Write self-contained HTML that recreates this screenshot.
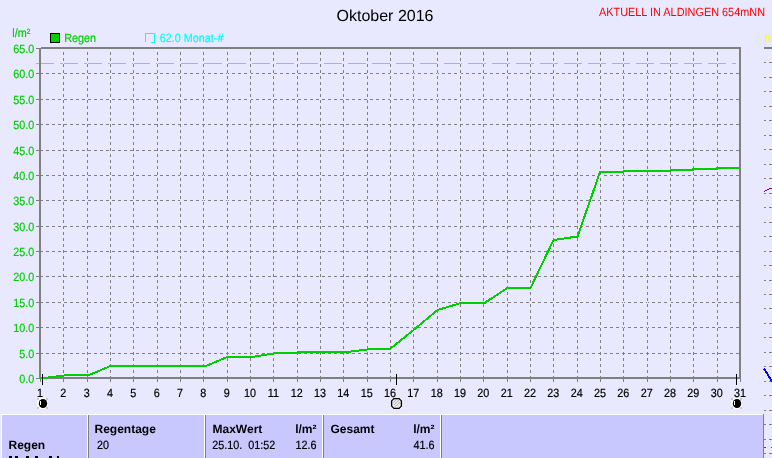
<!DOCTYPE html><html><head><meta charset="utf-8"><title>Oktober 2016</title><style>
html,body{margin:0;padding:0;background:#E8E8FF;}body{width:772px;height:458px;overflow:hidden;position:relative;font-family:"Liberation Sans",sans-serif;}svg{position:absolute;left:0;top:0;will-change:transform;}text{font-family:"Liberation Sans",sans-serif;white-space:pre;text-rendering:geometricPrecision;}
</style></head><body>
<svg width="772" height="458" viewBox="0 0 772 458">
<rect x="0" y="0" width="772" height="458" fill="#E8E8FF"/>
<g shape-rendering="crispEdges" stroke="#808080" stroke-width="1" stroke-dasharray="3 3" fill="none">
<line x1="40" y1="353.5" x2="739" y2="353.5"/>
<line x1="40" y1="327.5" x2="739" y2="327.5"/>
<line x1="40" y1="302.5" x2="739" y2="302.5"/>
<line x1="40" y1="276.5" x2="739" y2="276.5"/>
<line x1="40" y1="251.5" x2="739" y2="251.5"/>
<line x1="40" y1="226.5" x2="739" y2="226.5"/>
<line x1="40" y1="200.5" x2="739" y2="200.5"/>
<line x1="40" y1="175.5" x2="739" y2="175.5"/>
<line x1="40" y1="150.5" x2="739" y2="150.5"/>
<line x1="40" y1="124.5" x2="739" y2="124.5"/>
<line x1="40" y1="99.5" x2="739" y2="99.5"/>
<line x1="40" y1="73.5" x2="739" y2="73.5"/>
</g>
<line shape-rendering="crispEdges" x1="36" y1="63.5" x2="736" y2="63.5" stroke="#00FFFF" stroke-width="1" stroke-dasharray="18 6"/>
<g shape-rendering="crispEdges" stroke-width="1" fill="none">
<line x1="63.5" y1="49" x2="63.5" y2="377" stroke="#E8E8FF"/>
<line x1="63.5" y1="49" x2="63.5" y2="377" stroke="#808080" stroke-dasharray="3 3" stroke-dashoffset="3"/>
<line x1="87.5" y1="49" x2="87.5" y2="377" stroke="#E8E8FF"/>
<line x1="87.5" y1="49" x2="87.5" y2="377" stroke="#808080" stroke-dasharray="3 3" stroke-dashoffset="3"/>
<line x1="110.5" y1="49" x2="110.5" y2="377" stroke="#E8E8FF"/>
<line x1="110.5" y1="49" x2="110.5" y2="377" stroke="#808080" stroke-dasharray="3 3" stroke-dashoffset="3"/>
<line x1="133.5" y1="49" x2="133.5" y2="377" stroke="#E8E8FF"/>
<line x1="133.5" y1="49" x2="133.5" y2="377" stroke="#808080" stroke-dasharray="3 3" stroke-dashoffset="3"/>
<line x1="157.5" y1="49" x2="157.5" y2="377" stroke="#E8E8FF"/>
<line x1="157.5" y1="49" x2="157.5" y2="377" stroke="#808080" stroke-dasharray="3 3" stroke-dashoffset="3"/>
<line x1="180.5" y1="49" x2="180.5" y2="377" stroke="#E8E8FF"/>
<line x1="180.5" y1="49" x2="180.5" y2="377" stroke="#808080" stroke-dasharray="3 3" stroke-dashoffset="3"/>
<line x1="203.5" y1="49" x2="203.5" y2="377" stroke="#E8E8FF"/>
<line x1="203.5" y1="49" x2="203.5" y2="377" stroke="#808080" stroke-dasharray="3 3" stroke-dashoffset="3"/>
<line x1="227.5" y1="49" x2="227.5" y2="377" stroke="#E8E8FF"/>
<line x1="227.5" y1="49" x2="227.5" y2="377" stroke="#808080" stroke-dasharray="3 3" stroke-dashoffset="3"/>
<line x1="250.5" y1="49" x2="250.5" y2="377" stroke="#E8E8FF"/>
<line x1="250.5" y1="49" x2="250.5" y2="377" stroke="#808080" stroke-dasharray="3 3" stroke-dashoffset="3"/>
<line x1="273.5" y1="49" x2="273.5" y2="377" stroke="#E8E8FF"/>
<line x1="273.5" y1="49" x2="273.5" y2="377" stroke="#808080" stroke-dasharray="3 3" stroke-dashoffset="3"/>
<line x1="297.5" y1="49" x2="297.5" y2="377" stroke="#E8E8FF"/>
<line x1="297.5" y1="49" x2="297.5" y2="377" stroke="#808080" stroke-dasharray="3 3" stroke-dashoffset="3"/>
<line x1="320.5" y1="49" x2="320.5" y2="377" stroke="#E8E8FF"/>
<line x1="320.5" y1="49" x2="320.5" y2="377" stroke="#808080" stroke-dasharray="3 3" stroke-dashoffset="3"/>
<line x1="343.5" y1="49" x2="343.5" y2="377" stroke="#E8E8FF"/>
<line x1="343.5" y1="49" x2="343.5" y2="377" stroke="#808080" stroke-dasharray="3 3" stroke-dashoffset="3"/>
<line x1="367.5" y1="49" x2="367.5" y2="377" stroke="#E8E8FF"/>
<line x1="367.5" y1="49" x2="367.5" y2="377" stroke="#808080" stroke-dasharray="3 3" stroke-dashoffset="3"/>
<line x1="390.5" y1="49" x2="390.5" y2="377" stroke="#E8E8FF"/>
<line x1="390.5" y1="49" x2="390.5" y2="377" stroke="#808080" stroke-dasharray="3 3" stroke-dashoffset="3"/>
<line x1="413.5" y1="49" x2="413.5" y2="377" stroke="#E8E8FF"/>
<line x1="413.5" y1="49" x2="413.5" y2="377" stroke="#808080" stroke-dasharray="3 3" stroke-dashoffset="3"/>
<line x1="437.5" y1="49" x2="437.5" y2="377" stroke="#E8E8FF"/>
<line x1="437.5" y1="49" x2="437.5" y2="377" stroke="#808080" stroke-dasharray="3 3" stroke-dashoffset="3"/>
<line x1="460.5" y1="49" x2="460.5" y2="377" stroke="#E8E8FF"/>
<line x1="460.5" y1="49" x2="460.5" y2="377" stroke="#808080" stroke-dasharray="3 3" stroke-dashoffset="3"/>
<line x1="483.5" y1="49" x2="483.5" y2="377" stroke="#E8E8FF"/>
<line x1="483.5" y1="49" x2="483.5" y2="377" stroke="#808080" stroke-dasharray="3 3" stroke-dashoffset="3"/>
<line x1="507.5" y1="49" x2="507.5" y2="377" stroke="#E8E8FF"/>
<line x1="507.5" y1="49" x2="507.5" y2="377" stroke="#808080" stroke-dasharray="3 3" stroke-dashoffset="3"/>
<line x1="530.5" y1="49" x2="530.5" y2="377" stroke="#E8E8FF"/>
<line x1="530.5" y1="49" x2="530.5" y2="377" stroke="#808080" stroke-dasharray="3 3" stroke-dashoffset="3"/>
<line x1="553.5" y1="49" x2="553.5" y2="377" stroke="#E8E8FF"/>
<line x1="553.5" y1="49" x2="553.5" y2="377" stroke="#808080" stroke-dasharray="3 3" stroke-dashoffset="3"/>
<line x1="577.5" y1="49" x2="577.5" y2="377" stroke="#E8E8FF"/>
<line x1="577.5" y1="49" x2="577.5" y2="377" stroke="#808080" stroke-dasharray="3 3" stroke-dashoffset="3"/>
<line x1="600.5" y1="49" x2="600.5" y2="377" stroke="#E8E8FF"/>
<line x1="600.5" y1="49" x2="600.5" y2="377" stroke="#808080" stroke-dasharray="3 3" stroke-dashoffset="3"/>
<line x1="623.5" y1="49" x2="623.5" y2="377" stroke="#E8E8FF"/>
<line x1="623.5" y1="49" x2="623.5" y2="377" stroke="#808080" stroke-dasharray="3 3" stroke-dashoffset="3"/>
<line x1="647.5" y1="49" x2="647.5" y2="377" stroke="#E8E8FF"/>
<line x1="647.5" y1="49" x2="647.5" y2="377" stroke="#808080" stroke-dasharray="3 3" stroke-dashoffset="3"/>
<line x1="670.5" y1="49" x2="670.5" y2="377" stroke="#E8E8FF"/>
<line x1="670.5" y1="49" x2="670.5" y2="377" stroke="#808080" stroke-dasharray="3 3" stroke-dashoffset="3"/>
<line x1="693.5" y1="49" x2="693.5" y2="377" stroke="#E8E8FF"/>
<line x1="693.5" y1="49" x2="693.5" y2="377" stroke="#808080" stroke-dasharray="3 3" stroke-dashoffset="3"/>
<line x1="717.5" y1="49" x2="717.5" y2="377" stroke="#E8E8FF"/>
<line x1="717.5" y1="49" x2="717.5" y2="377" stroke="#808080" stroke-dasharray="3 3" stroke-dashoffset="3"/>
</g>
<g shape-rendering="crispEdges" fill="#808080">
<rect x="39" y="48" width="2" height="331"/>
<rect x="41" y="47" width="700" height="2"/>
<rect x="739" y="47" width="2" height="332"/>
<rect x="39" y="377" width="702" height="2"/>
<rect x="36" y="378" width="3" height="1"/>
<rect x="36" y="353" width="3" height="1"/>
<rect x="36" y="327" width="3" height="1"/>
<rect x="36" y="302" width="3" height="1"/>
<rect x="36" y="276" width="3" height="1"/>
<rect x="36" y="251" width="3" height="1"/>
<rect x="36" y="226" width="3" height="1"/>
<rect x="36" y="200" width="3" height="1"/>
<rect x="36" y="175" width="3" height="1"/>
<rect x="36" y="150" width="3" height="1"/>
<rect x="36" y="124" width="3" height="1"/>
<rect x="36" y="99" width="3" height="1"/>
<rect x="36" y="73" width="3" height="1"/>
<rect x="36" y="48" width="3" height="1"/>
<rect x="40" y="379" width="1" height="3"/>
<rect x="63" y="379" width="1" height="3"/>
<rect x="87" y="379" width="1" height="3"/>
<rect x="110" y="379" width="1" height="3"/>
<rect x="133" y="379" width="1" height="3"/>
<rect x="157" y="379" width="1" height="3"/>
<rect x="180" y="379" width="1" height="3"/>
<rect x="203" y="379" width="1" height="3"/>
<rect x="227" y="379" width="1" height="3"/>
<rect x="250" y="379" width="1" height="3"/>
<rect x="273" y="379" width="1" height="3"/>
<rect x="297" y="379" width="1" height="3"/>
<rect x="320" y="379" width="1" height="3"/>
<rect x="343" y="379" width="1" height="3"/>
<rect x="367" y="379" width="1" height="3"/>
<rect x="390" y="379" width="1" height="3"/>
<rect x="413" y="379" width="1" height="3"/>
<rect x="437" y="379" width="1" height="3"/>
<rect x="460" y="379" width="1" height="3"/>
<rect x="483" y="379" width="1" height="3"/>
<rect x="507" y="379" width="1" height="3"/>
<rect x="530" y="379" width="1" height="3"/>
<rect x="553" y="379" width="1" height="3"/>
<rect x="577" y="379" width="1" height="3"/>
<rect x="600" y="379" width="1" height="3"/>
<rect x="623" y="379" width="1" height="3"/>
<rect x="647" y="379" width="1" height="3"/>
<rect x="670" y="379" width="1" height="3"/>
<rect x="693" y="379" width="1" height="3"/>
<rect x="717" y="379" width="1" height="3"/>
<rect x="740" y="379" width="1" height="3"/>
</g>
<polyline shape-rendering="crispEdges" points="40.0,378.0 44.0,378.0 68.0,375.0 89.0,375.0 110.5,366.0 206.0,366.0 227.0,357.0 252.0,357.0 276.0,353.0 297.5,353.0 297.5,352.0 347.5,352.0 370.5,349.0 390.0,349.0 413.5,330.0 437.5,310.0 461.0,303.0 484.5,303.0 507.3,288.0 530.5,288.0 553.5,240.0 577.5,236.5 600.0,172.0 623.5,172.0 623.5,171.0 670.5,171.0 670.5,170.0 693.0,170.0 693.0,169.0 717.0,169.0 717.0,168.0 739.0,168.0" fill="none" stroke="#00D000" stroke-width="2" stroke-linejoin="round"/>
<text transform="translate(34.30 383.00) scale(0.900 1)" font-size="12" fill="#00D000" stroke="#00D000" stroke-width="0.2" text-anchor="end">0.0</text>
<text transform="translate(34.30 358.00) scale(0.900 1)" font-size="12" fill="#00D000" stroke="#00D000" stroke-width="0.2" text-anchor="end">5.0</text>
<text transform="translate(34.30 332.00) scale(0.900 1)" font-size="12" fill="#00D000" stroke="#00D000" stroke-width="0.2" text-anchor="end">10.0</text>
<text transform="translate(34.30 307.00) scale(0.900 1)" font-size="12" fill="#00D000" stroke="#00D000" stroke-width="0.2" text-anchor="end">15.0</text>
<text transform="translate(34.30 281.00) scale(0.900 1)" font-size="12" fill="#00D000" stroke="#00D000" stroke-width="0.2" text-anchor="end">20.0</text>
<text transform="translate(34.30 256.00) scale(0.900 1)" font-size="12" fill="#00D000" stroke="#00D000" stroke-width="0.2" text-anchor="end">25.0</text>
<text transform="translate(34.30 231.00) scale(0.900 1)" font-size="12" fill="#00D000" stroke="#00D000" stroke-width="0.2" text-anchor="end">30.0</text>
<text transform="translate(34.30 205.00) scale(0.900 1)" font-size="12" fill="#00D000" stroke="#00D000" stroke-width="0.2" text-anchor="end">35.0</text>
<text transform="translate(34.30 180.00) scale(0.900 1)" font-size="12" fill="#00D000" stroke="#00D000" stroke-width="0.2" text-anchor="end">40.0</text>
<text transform="translate(34.30 155.00) scale(0.900 1)" font-size="12" fill="#00D000" stroke="#00D000" stroke-width="0.2" text-anchor="end">45.0</text>
<text transform="translate(34.30 129.00) scale(0.900 1)" font-size="12" fill="#00D000" stroke="#00D000" stroke-width="0.2" text-anchor="end">50.0</text>
<text transform="translate(34.30 104.00) scale(0.900 1)" font-size="12" fill="#00D000" stroke="#00D000" stroke-width="0.2" text-anchor="end">55.0</text>
<text transform="translate(34.30 78.00) scale(0.900 1)" font-size="12" fill="#00D000" stroke="#00D000" stroke-width="0.2" text-anchor="end">60.0</text>
<text transform="translate(34.30 53.00) scale(0.900 1)" font-size="12" fill="#00D000" stroke="#00D000" stroke-width="0.2" text-anchor="end">65.0</text>
<text transform="translate(12.30 37.00) scale(0.900 1)" font-size="12" fill="#00D000" stroke="#00D000" stroke-width="0.2" text-anchor="start">l/m²</text>
<rect shape-rendering="crispEdges" x="50.5" y="33.5" width="9" height="9" fill="#00D000" stroke="#000"/>
<text transform="translate(64.20 42.00) scale(0.900 1)" font-size="12" fill="#00D000" stroke="#00D000" stroke-width="0.2" text-anchor="start">Regen</text>
<g shape-rendering="crispEdges" fill="#00FFFF"><rect x="145" y="33" width="10" height="1"/><rect x="145" y="33" width="1" height="9"/><rect x="154" y="33" width="1" height="10"/><rect x="151" y="42" width="4" height="1"/></g>
<text transform="translate(159.80 42.00) scale(0.900 1)" font-size="12" fill="#00FFFF" stroke="#00FFFF" stroke-width="0.2" text-anchor="start">62.0 Monat-#</text>
<text transform="translate(40.00 397.00) scale(0.900 1)" font-size="12" fill="#000" stroke="#000" stroke-width="0.2" text-anchor="middle">1</text>
<text transform="translate(63.33 397.00) scale(0.900 1)" font-size="12" fill="#000" stroke="#000" stroke-width="0.2" text-anchor="middle">2</text>
<text transform="translate(86.67 397.00) scale(0.900 1)" font-size="12" fill="#000" stroke="#000" stroke-width="0.2" text-anchor="middle">3</text>
<text transform="translate(110.00 397.00) scale(0.900 1)" font-size="12" fill="#000" stroke="#000" stroke-width="0.2" text-anchor="middle">4</text>
<text transform="translate(133.33 397.00) scale(0.900 1)" font-size="12" fill="#000" stroke="#000" stroke-width="0.2" text-anchor="middle">5</text>
<text transform="translate(156.67 397.00) scale(0.900 1)" font-size="12" fill="#000" stroke="#000" stroke-width="0.2" text-anchor="middle">6</text>
<text transform="translate(180.00 397.00) scale(0.900 1)" font-size="12" fill="#000" stroke="#000" stroke-width="0.2" text-anchor="middle">7</text>
<text transform="translate(203.33 397.00) scale(0.900 1)" font-size="12" fill="#000" stroke="#000" stroke-width="0.2" text-anchor="middle">8</text>
<text transform="translate(226.67 397.00) scale(0.900 1)" font-size="12" fill="#000" stroke="#000" stroke-width="0.2" text-anchor="middle">9</text>
<text transform="translate(250.00 397.00) scale(0.900 1)" font-size="12" fill="#000" stroke="#000" stroke-width="0.2" text-anchor="middle">10</text>
<text transform="translate(273.33 397.00) scale(0.900 1)" font-size="12" fill="#000" stroke="#000" stroke-width="0.2" text-anchor="middle">11</text>
<text transform="translate(296.67 397.00) scale(0.900 1)" font-size="12" fill="#000" stroke="#000" stroke-width="0.2" text-anchor="middle">12</text>
<text transform="translate(320.00 397.00) scale(0.900 1)" font-size="12" fill="#000" stroke="#000" stroke-width="0.2" text-anchor="middle">13</text>
<text transform="translate(343.33 397.00) scale(0.900 1)" font-size="12" fill="#000" stroke="#000" stroke-width="0.2" text-anchor="middle">14</text>
<text transform="translate(366.67 397.00) scale(0.900 1)" font-size="12" fill="#000" stroke="#000" stroke-width="0.2" text-anchor="middle">15</text>
<text transform="translate(390.00 397.00) scale(0.900 1)" font-size="12" fill="#000" stroke="#000" stroke-width="0.2" text-anchor="middle">16</text>
<text transform="translate(413.33 397.00) scale(0.900 1)" font-size="12" fill="#000" stroke="#000" stroke-width="0.2" text-anchor="middle">17</text>
<text transform="translate(436.67 397.00) scale(0.900 1)" font-size="12" fill="#000" stroke="#000" stroke-width="0.2" text-anchor="middle">18</text>
<text transform="translate(460.00 397.00) scale(0.900 1)" font-size="12" fill="#000" stroke="#000" stroke-width="0.2" text-anchor="middle">19</text>
<text transform="translate(483.33 397.00) scale(0.900 1)" font-size="12" fill="#000" stroke="#000" stroke-width="0.2" text-anchor="middle">20</text>
<text transform="translate(506.67 397.00) scale(0.900 1)" font-size="12" fill="#000" stroke="#000" stroke-width="0.2" text-anchor="middle">21</text>
<text transform="translate(530.00 397.00) scale(0.900 1)" font-size="12" fill="#000" stroke="#000" stroke-width="0.2" text-anchor="middle">22</text>
<text transform="translate(553.33 397.00) scale(0.900 1)" font-size="12" fill="#000" stroke="#000" stroke-width="0.2" text-anchor="middle">23</text>
<text transform="translate(576.67 397.00) scale(0.900 1)" font-size="12" fill="#000" stroke="#000" stroke-width="0.2" text-anchor="middle">24</text>
<text transform="translate(600.00 397.00) scale(0.900 1)" font-size="12" fill="#000" stroke="#000" stroke-width="0.2" text-anchor="middle">25</text>
<text transform="translate(623.33 397.00) scale(0.900 1)" font-size="12" fill="#000" stroke="#000" stroke-width="0.2" text-anchor="middle">26</text>
<text transform="translate(646.67 397.00) scale(0.900 1)" font-size="12" fill="#000" stroke="#000" stroke-width="0.2" text-anchor="middle">27</text>
<text transform="translate(670.00 397.00) scale(0.900 1)" font-size="12" fill="#000" stroke="#000" stroke-width="0.2" text-anchor="middle">28</text>
<text transform="translate(693.33 397.00) scale(0.900 1)" font-size="12" fill="#000" stroke="#000" stroke-width="0.2" text-anchor="middle">29</text>
<text transform="translate(716.67 397.00) scale(0.900 1)" font-size="12" fill="#000" stroke="#000" stroke-width="0.2" text-anchor="middle">30</text>
<text transform="translate(740.00 397.00) scale(0.900 1)" font-size="12" fill="#000" stroke="#000" stroke-width="0.2" text-anchor="middle">31</text>
<g shape-rendering="crispEdges" fill="#000">
<rect x="42" y="374" width="1" height="11"/>
<rect x="396" y="374" width="1" height="11"/>
<rect x="736" y="374" width="1" height="11"/>
</g>
<g shape-rendering="crispEdges"><rect x="37" y="398" width="11" height="11" fill="#FFFFFF"/>
<rect x="37" y="398" width="2" height="2" fill="#C8C8C8"/>
<rect x="46" y="398" width="2" height="2" fill="#C8C8C8"/>
<rect x="37" y="407" width="2" height="2" fill="#C8C8C8"/>
<rect x="46" y="407" width="2" height="2" fill="#C8C8C8"/>
</g>
<ellipse cx="43.0" cy="403.5" rx="4.2" ry="4.6" fill="#000"/>
<rect shape-rendering="crispEdges" x="40" y="401" width="1" height="4" fill="#FFFFFF"/>
<g shape-rendering="crispEdges"><rect x="731" y="398" width="11" height="11" fill="#FFFFFF"/>
<rect x="731" y="398" width="2" height="2" fill="#C8C8C8"/>
<rect x="740" y="398" width="2" height="2" fill="#C8C8C8"/>
<rect x="731" y="407" width="2" height="2" fill="#C8C8C8"/>
<rect x="740" y="407" width="2" height="2" fill="#C8C8C8"/>
</g>
<ellipse cx="737.0" cy="403.5" rx="4.2" ry="4.6" fill="#000"/>
<rect shape-rendering="crispEdges" x="734" y="401" width="1" height="4" fill="#FFFFFF"/>
<rect shape-rendering="crispEdges" x="391" y="398" width="11" height="11" fill="#F4F4FF"/>
<path d="M393.9 398.6 H399.1 L401.4 400.9 V406.1 L399.1 408.4 H393.9 L391.6 406.1 V400.9 Z" fill="#E6E6E6" stroke="#000" stroke-width="1.3"/>
<path d="M394 405 L399 400 M395.5 406.5 L400 402 M393.5 402.5 L396 400" stroke="#B0B0B0" stroke-width="0.8" fill="none"/>
<text x="385" y="21" font-size="16" fill="#000" text-anchor="middle">Oktober 2016</text>
<text x="599" y="16" font-size="12" fill="#FF0000" textLength="166" lengthAdjust="spacingAndGlyphs">AKTUELL IN ALDINGEN 654mNN</text>
<g shape-rendering="crispEdges">
<rect x="2" y="415" width="761" height="43" fill="#C8C8FF"/>
<rect x="1" y="414" width="763" height="1" fill="#FFFFFF"/>
<rect x="1" y="414" width="1" height="44" fill="#FFFFFF"/>
<rect x="763" y="414" width="1" height="44" fill="#808080"/>
<rect x="87" y="415" width="1" height="43" fill="#FFFFFF"/>
<rect x="88" y="415" width="1" height="43" fill="#808080"/>
<rect x="204" y="415" width="1" height="43" fill="#FFFFFF"/>
<rect x="205" y="415" width="1" height="43" fill="#808080"/>
<rect x="322" y="415" width="1" height="43" fill="#FFFFFF"/>
<rect x="323" y="415" width="1" height="43" fill="#808080"/>
<rect x="440" y="415" width="1" height="43" fill="#FFFFFF"/>
<rect x="441" y="415" width="1" height="43" fill="#808080"/>
</g>
<g font-size="11" fill="#000">
<g font-size="12" font-weight="bold">
<text x="8.5" y="449">Regen</text>
<text x="94.5" y="433">Regentage</text>
<text x="212.5" y="433">MaxWert</text>
<text x="316.5" y="433" text-anchor="end">l/m²</text>
<text x="330.5" y="433">Gesamt</text>
<text x="434.5" y="433" text-anchor="end">l/m²</text>
</g>
<text transform="translate(97.00 449.00) scale(0.900 1)" font-size="12" fill="#000" stroke="#000" stroke-width="0.2" text-anchor="start">20</text>
<text transform="translate(212.30 449.00) scale(0.900 1)" font-size="12" fill="#000" stroke="#000" stroke-width="0.2" text-anchor="start">25.10.</text>
<text transform="translate(248.30 449.00) scale(0.900 1)" font-size="12" fill="#000" stroke="#000" stroke-width="0.2" text-anchor="start">01:52</text>
<text transform="translate(316.50 449.00) scale(0.900 1)" font-size="12" fill="#000" stroke="#000" stroke-width="0.2" text-anchor="end">12.6</text>
<text transform="translate(434.50 449.00) scale(0.900 1)" font-size="12" fill="#000" stroke="#000" stroke-width="0.2" text-anchor="end">41.6</text>
</g>
<g shape-rendering="crispEdges" fill="#000">
<rect x="9" y="456" width="3" height="2"/>
<rect x="15" y="456" width="3" height="2"/>
<rect x="26" y="456" width="3" height="2"/>
<rect x="35" y="456" width="3" height="2"/>
<rect x="49" y="456" width="3" height="2"/>
<rect x="57" y="456" width="2" height="2"/>
</g>
<g shape-rendering="crispEdges" fill="#808080">
<rect x="764" y="47" width="8" height="2"/>
<rect x="764" y="62" width="2" height="1"/><rect x="769" y="62" width="3" height="1"/>
<rect x="764" y="77" width="2" height="1"/><rect x="769" y="77" width="3" height="1"/>
<rect x="764" y="91" width="2" height="1"/><rect x="769" y="91" width="3" height="1"/>
<rect x="764" y="106" width="2" height="1"/><rect x="769" y="106" width="3" height="1"/>
<rect x="764" y="120" width="2" height="1"/><rect x="769" y="120" width="3" height="1"/>
<rect x="764" y="135" width="2" height="1"/><rect x="769" y="135" width="3" height="1"/>
<rect x="764" y="149" width="2" height="1"/><rect x="769" y="149" width="3" height="1"/>
<rect x="764" y="164" width="2" height="1"/><rect x="769" y="164" width="3" height="1"/>
<rect x="764" y="178" width="2" height="1"/><rect x="769" y="178" width="3" height="1"/>
<rect x="764" y="193" width="2" height="1"/><rect x="769" y="193" width="3" height="1"/>
<rect x="764" y="207" width="2" height="1"/><rect x="769" y="207" width="3" height="1"/>
<rect x="764" y="222" width="2" height="1"/><rect x="769" y="222" width="3" height="1"/>
<rect x="764" y="236" width="2" height="1"/><rect x="769" y="236" width="3" height="1"/>
<rect x="764" y="251" width="2" height="1"/><rect x="769" y="251" width="3" height="1"/>
<rect x="764" y="265" width="2" height="1"/><rect x="769" y="265" width="3" height="1"/>
<rect x="764" y="280" width="2" height="1"/><rect x="769" y="280" width="3" height="1"/>
<rect x="764" y="294" width="2" height="1"/><rect x="769" y="294" width="3" height="1"/>
<rect x="764" y="308" width="2" height="1"/><rect x="769" y="308" width="3" height="1"/>
<rect x="764" y="323" width="2" height="1"/><rect x="769" y="323" width="3" height="1"/>
<rect x="764" y="337" width="2" height="1"/><rect x="769" y="337" width="3" height="1"/>
<rect x="764" y="352" width="2" height="1"/><rect x="769" y="352" width="3" height="1"/>
<rect x="764" y="366" width="2" height="1"/><rect x="769" y="366" width="3" height="1"/>
<rect x="764" y="381" width="2" height="1"/><rect x="769" y="381" width="3" height="1"/>
<rect x="764" y="395" width="2" height="1"/><rect x="769" y="395" width="3" height="1"/>
<rect x="764" y="410" width="2" height="1"/><rect x="769" y="410" width="3" height="1"/>
<rect x="764" y="424" width="2" height="1"/><rect x="769" y="424" width="3" height="1"/>
<rect x="764" y="439" width="2" height="1"/><rect x="769" y="439" width="3" height="1"/>
<rect x="764" y="453" width="2" height="1"/><rect x="769" y="453" width="3" height="1"/>
</g>
<g shape-rendering="crispEdges" fill="#FF0000"><rect x="764" y="447" width="2" height="1"/><rect x="771" y="447" width="1" height="1"/></g>
<text transform="translate(764.50 42.00) scale(0.900 1)" font-size="12" fill="#FFFF00" stroke="#FFFF00" stroke-width="0.2" text-anchor="start">nn</text>
<g shape-rendering="crispEdges" fill="#800080"><rect x="764" y="191" width="1" height="1"/><rect x="765" y="190" width="2" height="1"/><rect x="767" y="189" width="2" height="1"/><rect x="769" y="188" width="3" height="1"/></g>
<path shape-rendering="crispEdges" d="M764 368.5 L772 381.5" stroke="#0000FF" fill="none" stroke-width="2"/>
</svg></body></html>
